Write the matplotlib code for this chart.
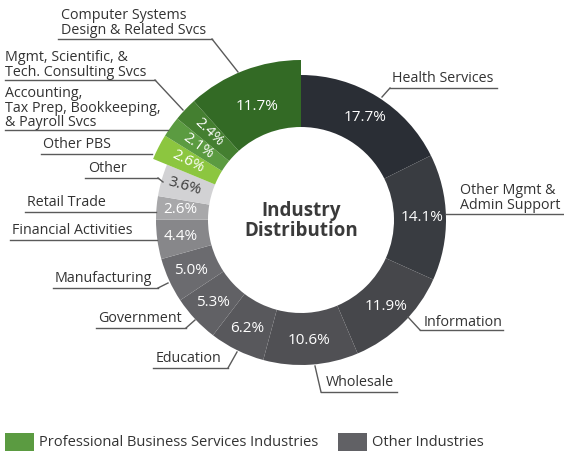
import matplotlib
matplotlib.use("Agg")
import numpy as np
import matplotlib.pyplot as plt

plt.rcParams['font.family'] = ['Open Sans', 'DejaVu Sans']

# data, clockwise from 12 o'clock
industries = ["Health Services", "Other Mgmt &\nAdmin Support", "Information", "Wholesale",
              "Education", "Government", "Manufacturing", "Financial Activities",
              "Retail Trade", "Other", "Other PBS",
              "Accounting,\nTax Prep, Bookkeeping,\n& Payroll Svcs",
              "Mgmt, Scientific, &\nTech. Consulting Svcs",
              "Computer Systems\nDesign & Related Svcs"]
shares = [17.7, 14.1, 11.9, 10.6, 6.2, 5.3, 5.0, 4.4, 2.6, 3.6, 2.6, 2.1, 2.4, 11.7]
is_pbs = [False] * 10 + [True] * 4
colors = ["#2a2e35", "#393c41", "#46474b", "#505054", "#58585c", "#616165", "#6b6b6f",
          "#87878a", "#a8a8aa", "#d2d2d4", "#8cc63f", "#5b9b41", "#447f30", "#336a25"]
pct_colors = ["white"] * 9 + ["#3a3a3a"] + ["white"] * 4

W, H = 564, 451
fig = plt.figure(figsize=(W / 100, H / 100), dpi=100)
ax = fig.add_axes([0, 0, 1, 1])

cx, cy = 301, H - 220
r_in, r_out, r_pbs = 93, 145, 160

wedges, _ = ax.pie(shares, colors=colors, startangle=90, counterclock=False,
                   radius=r_pbs, center=(cx, cy),
                   wedgeprops=dict(width=r_pbs - r_in, linewidth=0))
for w, p in zip(wedges, is_pbs):
    if not p:
        w.set_radius(r_out)
        w.set_width(r_out - r_in)

# percentage labels
rotated = {"Other", "Other PBS", "Mgmt, Scientific, &\nTech. Consulting Svcs",
           "Accounting,\nTax Prep, Bookkeeping,\n& Payroll Svcs"}
for w, name, s, c, p in zip(wedges, industries, shares, pct_colors, is_pbs):
    mid = (w.theta1 + w.theta2) / 2
    rr = 121 if not p else 126
    if name.startswith("Computer"):
        rr = 122
    rot = 0
    if name in rotated:
        rot = mid - 180
        rr = 121 if name == "Other" else 127
    x = cx + rr * np.cos(np.radians(mid))
    y = cy + rr * np.sin(np.radians(mid))
    ax.text(x, y, f"{s:.1f}%", color=c, fontsize=11, ha="center", va="center",
            rotation=rot, rotation_mode="anchor")

ax.text(cx, cy - 1, "Industry\nDistribution", ha="center", va="center",
        fontsize=13.5, fontweight="bold", color="#3a3a3a", linespacing=1.0)

# callouts: text left x, text center y, underline y, underline x0, x1, leader end
callouts = [
    (392, 78, 88, 390, 497, (382, 97), (390, 88)),
    (460, 198, 214, 446, 563, None, None),
    (424, 322, 330, 420, 503, (408, 317), (420, 330)),
    (326, 382, 392, 321, 397, (315, 366), (321, 392)),
    (156, 359, 368, 153, 228, (237, 352), (228, 368)),
    (98, 318, 328, 96, 186, (195, 320), (186, 328)),
    (55, 279, 288, 53, 158, (168, 283), (158, 288)),
    (12, 231, 240, 10, 157, None, None),
    (27, 203, 212, 25, 156, None, None),
    (88, 169, 178, 85, 158, (163, 182), (158, 178)),
    (43, 144, 154, 41, 152, None, None),
    (5, 108, 130, 5, 168, None, None),
    (5, 65, 80, 5, 155, (183, 110), (155, 80)),
    (61, 23, 39, 58, 212, (238, 72), (212, 39)),
]
line_col = "#5a5a5a"
for name, (tx, ty, uy, x0, x1, a, b) in zip(industries, callouts):
    ax.text(tx, H - ty, name, ha="left", va="center", fontsize=10.3,
            color="#333333", linespacing=0.98)
    ax.plot([x0, x1], [H - uy, H - uy], color=line_col, lw=1)
    if a is not None:
        ax.plot([a[0], b[0]], [H - a[1], H - b[1]], color=line_col, lw=1)

# legend
ax.add_patch(plt.Rectangle((5, 0), 29, H - 433, color="#5b9b41", lw=0))
ax.text(39, H - 443, "Professional Business Services Industries", ha="left",
        va="center", fontsize=10.5, color="#333333")
ax.add_patch(plt.Rectangle((338, 0), 29, H - 433, color="#616165", lw=0))
ax.text(372, H - 443, "Other Industries", ha="left", va="center",
        fontsize=10.5, color="#333333")

ax.set_xlim(0, W)
ax.set_ylim(0, H)
ax.set_aspect("equal")
ax.axis("off")

fig.savefig("out.png", dpi=100)
